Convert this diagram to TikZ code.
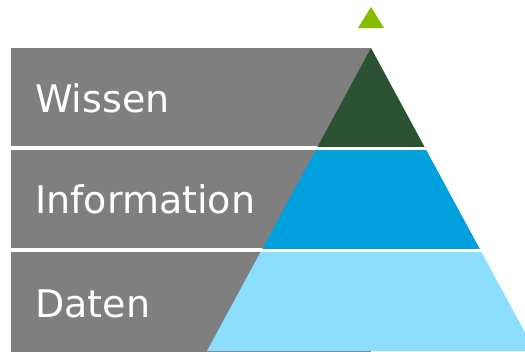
\documentclass[tikz,border=0pt]{standalone}
\usepackage{fontspec}
\setmainfont{DejaVu Sans}

\definecolor{barGray}{HTML}{7F7F7F}
\definecolor{wissenGreen}{HTML}{2C5234}
\definecolor{infoBlue}{HTML}{00A0DF}
\definecolor{datenBlue}{HTML}{8CDEFF}
\definecolor{topGreen}{HTML}{84BD00}

\tikzstyle{bar} = [rectangle, fill=barGray, minimum width=360pt, minimum height=98pt, anchor=north west, inner sep=0pt]
\tikzstyle{levelText} = [anchor=base west, inner sep=0pt, text=white, font=\fontsize{38}{42}\selectfont]

\begin{document}
\begin{tikzpicture}[x=1pt, y=-1pt]
\useasboundingbox (0,0) rectangle (525,351);

% grey bars
\node (barW) [bar] at (11,48) {};
\node (barI) [bar] at (11,150) {};
\node (barD) [bar, minimum height=101pt] at (11,252) {};

% pyramid, cut into three bands
\coordinate (apex) at (371,48);
\coordinate (baseL) at (207,351);
\coordinate (baseR) at (535,351);
\foreach \top/\bot/\col in {48/146/wissenGreen, 150/248/infoBlue, 252/355/datenBlue}{
  \begin{scope}
    \clip (0,\top) rectangle (525,\bot);
    \fill[\col] (apex) -- (baseL) -- (baseR) -- cycle;
  \end{scope}
}

% small top mark
\fill[topGreen] (371,7) -- (384,28) -- (358,28) -- cycle;

\node (tW) [levelText] at (35,112) {Wissen};
\node (tI) [levelText] at (35,213) {Information};
\node (tD) [levelText] at (35,317) {Daten};

\end{tikzpicture}
\end{document}
